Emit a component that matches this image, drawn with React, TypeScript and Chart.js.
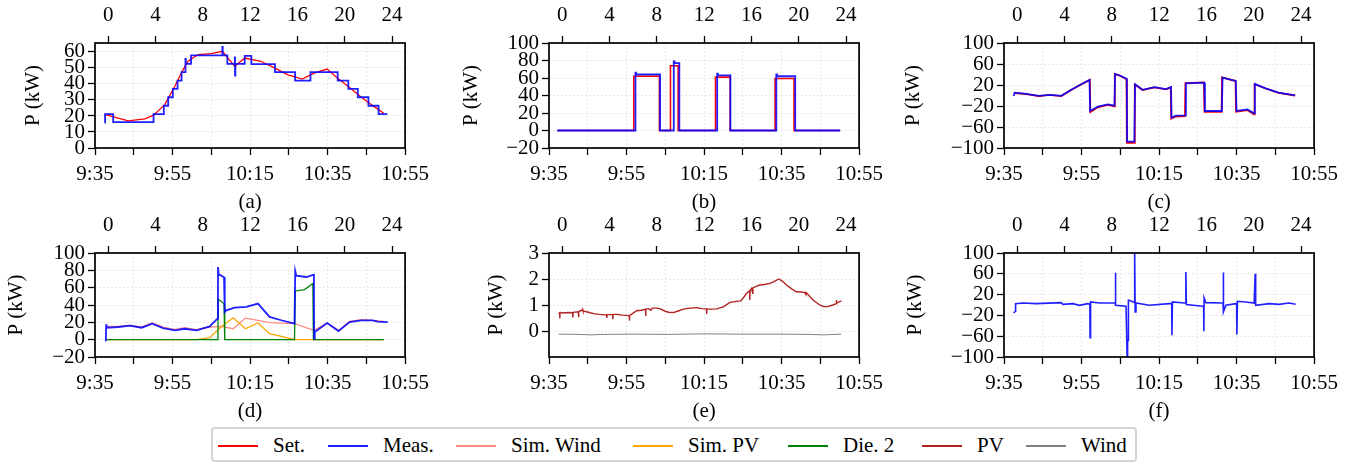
import React, { useEffect, useRef } from 'react';
import { Chart, registerables } from 'chart.js';

Chart.register(...registerables);

type P = [number, number];

// ---------- axes ----------
const HOUR_TICKS = [0, 4, 8, 12, 16, 20, 24];
const TIME_TICKS = [0, 10, 20, 30, 40, 50, 60, 70, 80];
const TIME_LABELS = ['9:35', '', '9:55', '', '10:15', '', '10:35', '', '10:55'];
const HOUR_MIN = -1.12;
const HOUR_MAX = 25.1;

const Y_TICKS_A = [0, 10, 20, 30, 40, 50, 60];
const Y_TICKS_B = [-20, 0, 20, 40, 60, 80, 100];
const Y_TICKS_C = [-100, -60, -20, 20, 60, 100];
const Y_TICKS_D = [-20, 0, 20, 40, 60, 80, 100];
const Y_TICKS_E = [0, 1, 2, 3];
const Y_TICKS_F = [-100, -60, -20, 20, 60, 100];

// ---------- data (x = simulated hour, y = kW) ----------
const SET_A: P[] = [
  [-0.25, 20.8], [1.69, 17.0], [3.1, 18.2], [3.83, 20.5], [4.78, 27.1], [5.63, 38.6],
  [6.25, 47.9], [6.75, 54.2], [7.6, 58.4], [8.72, 59.0], [9.65, 60.4], [10.7, 51.0],
  [11.54, 56.2], [12.9, 54.2], [14.1, 49.9], [15.2, 45.7], [16.4, 43.0], [17.4, 46.8],
  [18.5, 49.3], [19.4, 43.6], [20.3, 38.4], [21.4, 31.7], [22.4, 26.3], [23.3, 21.7],
];
const MEAS_A: P[] = [
  [-0.28, 15.7], [-0.27, 21.2], [0.42, 16.2], [3.83, 21.2], [4.7, 26.4], [5.07, 31.7],
  [5.46, 36.9], [5.86, 42.1], [6.2, 47.4], [6.53, 55.6], [6.56, 52.6], [7.0, 57.9],
  [9.65, 63.1], [9.68, 57.9], [10.07, 52.6], [10.7, 56.6], [10.72, 45.3], [10.75, 52.6],
  [11.54, 57.5], [12.1, 52.4], [14.1, 47.4], [15.8, 42.1], [17.1, 47.4], [19.4, 42.1],
  [20.3, 36.9], [21.1, 31.7], [22.0, 26.4], [22.86, 21.2], [23.6, 21.2],
];

const SET_B: P[] = [
  [-0.42, 0], [6.05, 62], [8.22, 0], [9.15, 74], [9.8, 0], [12.96, 61], [14.2, 0],
  [18.0, 59.5], [19.6, 0], [23.5, 0],
];
const MEAS_B: P[] = [
  [-0.42, 0], [6.19, 66], [6.25, 64], [8.27, 0], [9.43, 79], [9.5, 77], [9.9, 0],
  [13.1, 65], [13.16, 63], [14.22, 0], [18.1, 64], [18.16, 62], [19.7, 0], [23.5, 0],
];

const SET_C: P[] = [
  [-0.22, 4.8], [0.76, 2.8], [1.83, -1.0], [2.73, 1.0], [3.72, -1.0], [4.56, 10.4],
  [5.4, 21.0], [6.14, 29.5], [6.18, -31.5], [6.81, -22.5], [7.65, -18], [8.2, -20.5],
  [8.25, 40.5], [8.64, 38], [9.24, 31], [9.27, -90], [9.9, -90], [9.94, 21], [10.6, 10.4],
  [11.59, 15.5], [12.58, 11.7], [12.98, 15.5], [13.02, -44], [13.42, -40], [14.18, -39.5],
  [14.22, 23.5], [15.79, 25], [15.83, -31], [17.28, -31], [17.32, 34.5], [18.46, 27.5],
  [18.5, -31], [19.47, -28], [20.03, -36], [20.07, 21.5], [21.0, 13.3], [22.1, 5], [23.5, 0],
];
const MEAS_C: P[] = [
  [-0.3, -1], [-0.22, 5.4], [0.76, 3.2], [1.83, -0.6], [2.73, 1.3], [3.72, -0.6],
  [4.56, 10.8], [5.4, 21.5], [6.11, 29.8], [6.16, -29.5], [6.81, -21.3], [7.65, -16.8],
  [8.22, -19.4], [8.27, 41], [8.64, 38.6], [9.26, 31.6], [9.29, -88], [9.9, -88],
  [9.96, 21.4], [10.6, 10.8], [11.59, 15.9], [12.58, 12.1], [13.0, 15.9], [13.05, -42],
  [13.42, -38.4], [14.2, -38], [14.26, 23.2], [15.81, 24.4], [15.87, -29.5], [17.3, -29.5],
  [17.36, 34], [18.48, 27.9], [18.54, -29.5], [19.47, -26.4], [20.03, -34], [20.09, 22],
  [21.0, 13.7], [22.1, 5.4], [23.5, 0.3],
];

const MEAS_D: P[] = [
  [-0.28, -0.8], [-0.2, -1], [-0.18, 17.7], [-0.14, 13.8], [0.85, 14.6], [1.83, 16.2],
  [2.82, 13.8], [3.72, 18.4], [4.64, 13.4], [5.63, 10.7], [6.47, 12.6], [7.46, 10.7],
  [8.58, 15.3], [9.23, 24.2], [9.28, 83.8], [9.34, 75], [9.51, 74.2], [9.79, 72],
  [9.85, 31.9], [9.99, 33.9], [10.69, 37], [11.68, 37.8], [12.66, 41.6], [13.64, 26.3],
  [14.63, 22.4], [15.75, 18.6], [15.81, 79.2], [15.9, 73.8], [16.74, 72.3], [17.39, 75],
  [17.41, 1.1], [17.46, 8.8], [18.51, 19.2], [19.47, 9.9], [20.4, 20.3], [21.38, 22.3],
  [22.36, 22.3], [22.79, 20.7], [23.63, 20.3],
];
const SIM_WIND_D: P[] = [
  [-0.14, 15.3], [0.85, 15.3], [1.83, 16.6], [2.82, 14.6], [3.72, 19.6], [4.64, 14.6],
  [5.63, 11.9], [6.47, 13.8], [7.46, 11.5], [8.58, 14.6], [9.58, 15.3], [10.57, 12.6],
  [11.6, 24.9], [12.66, 22.2], [13.64, 19.6], [14.63, 19.2], [15.75, 18.4], [17.39, 10.7],
  [18.51, 19.2], [19.47, 10.7], [20.4, 21.1], [21.38, 23.0], [22.36, 22.3], [23.3, 21.1],
];
const SIM_PV_D: P[] = [
  [-0.14, 0], [7.46, 0], [8.58, 2.3], [9.58, 15.3], [10.57, 25.3], [11.6, 12.6],
  [12.66, 19.2], [13.64, 6.9], [14.63, 3.8], [15.75, 0], [23.3, 0],
];
const DIE2_D: P[] = [
  [-0.14, 0], [9.23, 0], [9.28, 47.2], [9.79, 41.5], [9.85, 0], [15.75, 0], [15.81, 56.2],
  [16.6, 57.8], [17.3, 64.7], [17.35, 0], [23.3, 0],
];

const PV_E: P[] = [
  [-0.31, 0.66], [-0.22, 0.70], [-0.21, 0.48], [-0.19, 0.69], [0.2, 0.70], [0.68, 0.71],
  [0.88, 0.69], [0.9, 0.52], [0.92, 0.72], [1.36, 0.74], [1.38, 0.53], [1.4, 0.75],
  [1.66, 0.80], [1.7, 0.84], [1.75, 0.77], [2.2, 0.72], [2.65, 0.67], [3.1, 0.64],
  [3.6, 0.62], [3.75, 0.62], [3.77, 0.50], [3.79, 0.63], [4.26, 0.64], [4.28, 0.45],
  [4.3, 0.64], [4.61, 0.64], [5.1, 0.61], [5.6, 0.59], [5.66, 0.59], [5.68, 0.40],
  [5.7, 0.60], [5.9, 0.66], [6.3, 0.78], [6.7, 0.80], [7.04, 0.84], [7.06, 0.58],
  [7.08, 0.83], [7.3, 0.86], [7.5, 0.80], [7.6, 0.88], [7.99, 0.88], [8.3, 0.85],
  [8.69, 0.76], [9.0, 0.72], [9.4, 0.71], [9.8, 0.77], [10.24, 0.84], [10.8, 0.88],
  [11.37, 0.90], [11.8, 0.86], [12.19, 0.85], [12.21, 0.66], [12.23, 0.84], [12.6, 0.84],
  [13.05, 0.85], [13.62, 0.93], [14.18, 1.10], [14.6, 1.13], [15.1, 1.16], [15.35, 1.30],
  [15.59, 1.45], [15.84, 1.55], [15.86, 1.19], [15.88, 1.56], [16.01, 1.64], [16.1, 1.45],
  [16.12, 1.66], [16.4, 1.72], [16.71, 1.77], [17.1, 1.79], [17.56, 1.83], [17.9, 1.90],
  [18.31, 2.0], [18.6, 1.92], [18.96, 1.77], [19.4, 1.62], [19.8, 1.51], [20.2, 1.50],
  [20.51, 1.48], [20.6, 1.40], [20.62, 1.48], [21.21, 1.19], [21.77, 1.00], [22.05, 0.95],
  [22.34, 0.93], [22.9, 1.0], [23.15, 1.05], [23.18, 1.19], [23.2, 1.07], [23.6, 1.16],
];
const WIND_E: P[] = [
  [-0.31, -0.12], [1.5, -0.13], [2.4, -0.15], [3.5, -0.13], [6, -0.12], [9, -0.13],
  [12, -0.11], [15, -0.12], [18, -0.12], [21, -0.13], [22, -0.15], [22.6, -0.14], [23.6, -0.12],
];

const MEAS_F: P[] = [
  [-0.31, -15.3], [-0.22, -13.5], [-0.16, -12], [-0.14, 2.6], [0.48, 3.8], [1.61, 2.6],
  [3.72, 4.5], [3.86, 1.3], [4.7, 2.6], [5.26, -0.6], [5.97, 2.6], [6.14, 1.5],
  [6.16, -62.8], [6.2, 5.8], [6.95, 3.8], [8.22, 3.8], [8.28, 3.8], [8.3, 62], [8.33, -0.6],
  [9.2, -2.5], [9.27, -2.5], [9.29, -100], [9.33, -68], [9.37, -68], [9.4, 9], [9.48, 9],
  [9.9, 5], [9.93, 100], [9.97, -13.5], [10.04, 3.8], [11.17, -0.6], [12.86, 2.6],
  [13.06, 2.6], [13.08, -58], [13.12, 5.8], [14.13, 3.8], [14.24, 3.8], [14.26, 63.3],
  [14.3, 0.7], [15.67, -2.5], [15.76, -2.5], [15.78, -50.5], [15.8, 14], [15.95, 4.5],
  [17.3, 3.8], [17.4, 3.8], [17.42, 62.7], [17.45, -13.5], [17.64, -0.6], [18.48, 2.6],
  [18.55, 2.6], [18.57, -56.6], [18.62, 7.1], [19.33, 5.8], [20.03, 3.8], [20.1, 3.8],
  [20.12, 60], [20.16, -0.6], [21.3, 2.6], [22.14, 1.3], [22.98, 3.8], [23.55, 1.3],
];

// ---------- legend ----------
const LEGEND_LABELS = ['Set.', 'Meas.', 'Sim. Wind', 'Sim. PV', 'Die. 2', 'PV', 'Wind'];
const C_SET = '#ff0000';
const C_MEAS = 'rgba(0,0,255,0.88)';
const C_SIMWIND = '#ff8c82';
const C_SIMPV = '#ffa500';
const C_DIE2 = '#008000';
const C_PV = '#b22222';
const C_WIND = '#808080';
const LEGEND_COLORS = [C_SET, C_MEAS, C_SIMWIND, C_SIMPV, C_DIE2, C_PV, C_WIND];
const LEGEND_X = [218, 328, 456, 633, 788, 922, 1026];

// ---------- layout ----------
const FAMILY = "'Liberation Serif', 'DejaVu Serif', serif";
const FS = 21;
const PLOT_W = 311;
const TOP_H = 43;
const BOTTOM_H = 70;
const RIGHT_PAD = 30;
const GRID = '#e2e2e2';

interface Series { label: string; data: P[]; color: string; width: number; stepped?: boolean; order: number; }
interface PanelSpec {
  caption: string; left: number; top: number; axisW: number; titlePad: number; plotH: number;
  yMin: number; yMax: number; yTicks: number[]; series: Series[];
}

const PANELS: PanelSpec[] = [
  { caption: '(a)', left: 0, top: 0, axisW: 95, titlePad: 20.7, plotH: 105, yMin: 0, yMax: 65.6, yTicks: Y_TICKS_A,
    series: [
      { label: 'Set.', data: SET_A, color: C_SET, width: 1.3, order: 1 },
      { label: 'Meas.', data: MEAS_A, color: C_MEAS, width: 1.8, stepped: true, order: 0 },
    ] },
  { caption: '(b)', left: 450, top: 0, axisW: 99, titlePad: 9.1, plotH: 105, yMin: -20, yMax: 100, yTicks: Y_TICKS_B,
    series: [
      { label: 'Set.', data: SET_B, color: C_SET, width: 1.6, stepped: true, order: 1 },
      { label: 'Meas.', data: MEAS_B, color: C_MEAS, width: 1.8, stepped: true, order: 0 },
    ] },
  { caption: '(c)', left: 900, top: 0, axisW: 104, titlePad: 0.4, plotH: 105, yMin: -100, yMax: 100, yTicks: Y_TICKS_C,
    series: [
      { label: 'Set.', data: SET_C, color: C_SET, width: 1.8, order: 1 },
      { label: 'Meas.', data: MEAS_C, color: C_MEAS, width: 1.8, order: 0 },
    ] },
  { caption: '(d)', left: 0, top: 210, axisW: 95, titlePad: 4.1, plotH: 104, yMin: -20, yMax: 100, yTicks: Y_TICKS_D,
    series: [
      { label: 'Meas.', data: MEAS_D, color: C_MEAS, width: 1.8, order: 0 },
      { label: 'Sim. Wind', data: SIM_WIND_D, color: C_SIMWIND, width: 1.3, order: 3 },
      { label: 'Sim. PV', data: SIM_PV_D, color: C_SIMPV, width: 1.3, order: 2 },
      { label: 'Die. 2', data: DIE2_D, color: C_DIE2, width: 1.3, order: 1 },
    ] },
  { caption: '(e)', left: 450, top: 210, axisW: 99, titlePad: 34.1, plotH: 104, yMin: -1, yMax: 3, yTicks: Y_TICKS_E,
    series: [
      { label: 'PV', data: PV_E, color: C_PV, width: 1.4, order: 0 },
      { label: 'Wind', data: WIND_E, color: C_WIND, width: 1.0, order: 1 },
    ] },
  { caption: '(f)', left: 900, top: 210, axisW: 104, titlePad: 2.4, plotH: 104, yMin: -100, yMax: 100, yTicks: Y_TICKS_F,
    series: [
      { label: 'Meas.', data: MEAS_F, color: C_MEAS, width: 1.6, order: 0 },
    ] },
];

const fmt = (v: number) => String(v).replace('-', '\u2212');

const framePlugin = {
  id: 'frame',
  afterDatasetsDraw(chart: any) {
    const { ctx, chartArea: a } = chart;
    ctx.save();
    ctx.strokeStyle = '#000';
    ctx.lineWidth = 1.7;
    ctx.strokeRect(a.left, a.top, a.right - a.left, a.bottom - a.top);
    ctx.restore();
  },
};

function PanelChart({ spec }: { spec: PanelSpec }) {
  const ref = useRef<HTMLCanvasElement>(null);
  const W = spec.axisW + PLOT_W + RIGHT_PAD;
  const H = TOP_H + spec.plotH + BOTTOM_H;
  useEffect(() => {
    const font = { family: FAMILY, size: FS, lineHeight: 1.2 };
    const chart = new Chart(ref.current as HTMLCanvasElement, {
      type: 'line',
      data: {
        datasets: spec.series.map((s) => ({
          label: s.label,
          data: s.data.map(([x, y]) => ({ x, y })),
          borderColor: s.color,
          backgroundColor: s.color,
          borderWidth: s.width,
          pointRadius: 0,
          fill: false,
          tension: 0,
          stepped: s.stepped ? 'before' : false,
          order: s.order,
          xAxisID: 'xt',
          yAxisID: 'y',
        })),
      } as any,
      options: {
        animation: false,
        responsive: false,
        maintainAspectRatio: false,
        layout: { padding: { left: 0, right: RIGHT_PAD, top: 0, bottom: 0 } },
        plugins: { legend: { display: false }, tooltip: { enabled: false } },
        scales: {
          xt: {
            type: 'linear', position: 'top', min: HOUR_MIN, max: HOUR_MAX, bounds: 'data',
            afterBuildTicks: (s: any) => { s.ticks = HOUR_TICKS.map((v) => ({ value: v })); },
            afterFit: (s: any) => { s.height = TOP_H; },
            ticks: { font, color: '#000', padding: 8, maxRotation: 0, minRotation: 0, autoSkip: false },
            grid: { drawOnChartArea: false, drawTicks: true, tickLength: 7, tickColor: '#000', tickWidth: 1.3 },
            border: { display: false },
          },
          xb: {
            type: 'linear', position: 'bottom', min: 0, max: 80, bounds: 'data',
            afterBuildTicks: (s: any) => { s.ticks = TIME_TICKS.map((v) => ({ value: v })); },
            afterFit: (s: any) => { s.height = BOTTOM_H; },
            ticks: {
              font, color: '#000', padding: 7, maxRotation: 0, minRotation: 0, autoSkip: false,
              callback: (v: any) => TIME_LABELS[TIME_TICKS.indexOf(Number(v))] ?? '',
            },
            grid: { color: GRID, lineWidth: 0.8, tickLength: 7, tickColor: '#000', tickWidth: 1.3 },
            border: { display: false, dash: [2, 2] },
            title: { display: true, text: spec.caption, font, color: '#000', padding: { top: 0, bottom: 3 } },
          },
          y: {
            type: 'linear', position: 'left', min: spec.yMin, max: spec.yMax, bounds: 'data',
            afterBuildTicks: (s: any) => { s.ticks = spec.yTicks.map((v) => ({ value: v })); },
            afterFit: (s: any) => { s.width = spec.axisW; },
            ticks: { font, color: '#000', padding: 3, autoSkip: false, callback: (v: any) => fmt(Number(v)) },
            grid: { color: GRID, lineWidth: 0.8, tickLength: 7, tickColor: '#000', tickWidth: 1.3 },
            border: { display: false, dash: [2, 2] },
            title: { display: true, text: 'P (kW)', font, color: '#000', padding: { top: spec.titlePad, bottom: 0 } },
          },
        },
      } as any,
      plugins: [framePlugin],
    });
    return () => chart.destroy();
  }, []);
  return (
    <canvas
      ref={ref}
      width={W}
      height={H}
      style={{ position: 'absolute', left: spec.left, top: spec.top, width: W, height: H }}
    />
  );
}

function Legend() {
  return (
    <div
      style={{
        position: 'absolute', left: 211, top: 427, width: 926, height: 35,
        border: '2px solid #d4d4d4', borderRadius: 4, boxSizing: 'border-box', background: '#fff',
      }}
    >
      {LEGEND_LABELS.map((lab, i) => (
        <React.Fragment key={lab}>
          <div
            style={{
              position: 'absolute', left: LEGEND_X[i] - 211 - 2, top: 16, width: 40, height: 2,
              background: LEGEND_COLORS[i],
            }}
          />
          <div
            style={{
              position: 'absolute', left: LEGEND_X[i] - 211 - 2 + 55, top: 3, height: 26, lineHeight: '26px',
              fontFamily: FAMILY, fontSize: FS, color: '#000', whiteSpace: 'nowrap',
            }}
          >
            {lab}
          </div>
        </React.Fragment>
      ))}
    </div>
  );
}

export default function App() {
  return (
    <div style={{ position: 'fixed', left: 0, top: 0, width: 1356, height: 466, background: '#fff', overflow: 'hidden' }}>
      {PANELS.map((p) => (
        <PanelChart key={p.caption} spec={p} />
      ))}
      <Legend />
    </div>
  );
}
